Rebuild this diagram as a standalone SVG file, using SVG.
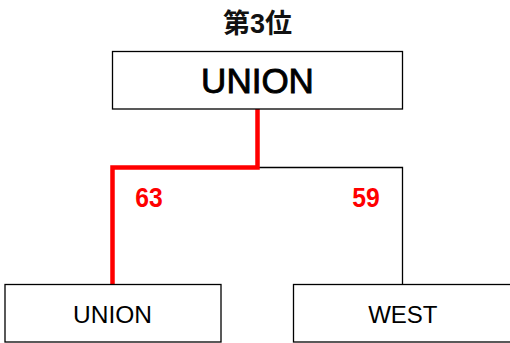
<svg xmlns="http://www.w3.org/2000/svg" width="510" height="343" viewBox="0 0 510 343">
<style>
.box{fill:#fff;stroke:#000;stroke-width:1.3}
.lbl{font-family:"Liberation Sans",Arial,sans-serif;fill:#000;text-anchor:middle}
.score{font-family:"Liberation Sans",Arial,sans-serif;font-weight:bold;fill:#f00;font-size:26px;text-anchor:middle}
</style>
<rect width="510" height="343" fill="#fff"/>
<text x="257.5" y="32.5" text-anchor="middle" font-family="'Liberation Sans','Noto Sans CJK JP',sans-serif" font-weight="bold" font-size="27" fill="#111">第3位</text>
<g id="connectors">
<polyline points="257.5,167.5 402.5,167.5 402.5,284.5" fill="none" stroke="#000" stroke-width="1.3"/>
<polyline points="257.5,109 257.5,167.5 112.5,167.5 112.5,284.5" fill="none" stroke="#f00" stroke-width="4.5"/>
<text class="score" x="149" y="206.7" transform="translate(149 206.7) scale(0.95 1.05) translate(-149 -206.7)">63</text>
<text class="score" x="366" y="206.7" transform="translate(366 206.7) scale(0.95 1.05) translate(-366 -206.7)">59</text>
</g>
<g id="node-top">
<rect class="box" x="112.5" y="51.5" width="290" height="57.5"/>
<text class="lbl" x="257.5" y="93.3" font-size="35" stroke="#000" stroke-width="0.9">UNION</text>
</g>
<g id="node-union">
<rect class="box" x="5" y="284.5" width="216" height="57.5"/>
<text class="lbl" x="112.5" y="322.5" font-size="24.5">UNION</text>
</g>
<g id="node-west">
<rect class="box" x="293.5" y="284.5" width="220" height="57.5"/>
<text class="lbl" x="402.8" y="322.5" font-size="24">WEST</text>
</g>
</svg>
